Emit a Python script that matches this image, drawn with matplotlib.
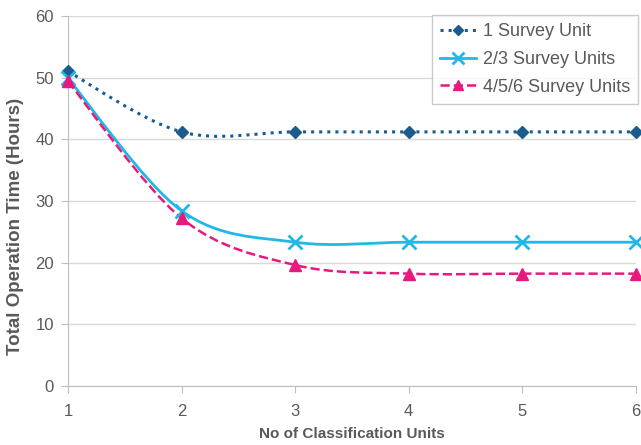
import matplotlib
matplotlib.use('Agg')

import numpy as np
import matplotlib.pyplot as plt
from matplotlib.path import Path
from matplotlib.patches import PathPatch
from matplotlib.lines import Line2D

# -----------------------------
# Data
# -----------------------------
units = [1, 2, 3, 4, 5, 6]
one_unit = [51.0, 41.2, 41.2, 41.2, 41.2, 41.2]
two_three_units = [49.9, 28.4, 23.3, 23.3, 23.3, 23.3]
four_five_six_units = [49.4, 27.2, 19.6, 18.2, 18.2, 18.2]

labels = ['1 Survey Unit', '2/3 Survey Units', '4/5/6 Survey Units']

plt.rcParams['font.family'] = ['Liberation Sans', 'DejaVu Sans']
grey = '#595959'


# -----------------------------
# Excel-style smoothed line (cubic Bezier segments)
# -----------------------------
def smooth_path(x, y):
    pts = np.column_stack([x, y]).astype(float)
    n = len(pts)
    verts = [pts[0]]
    codes = [Path.MOVETO]
    for k in range(n - 1):
        p0 = pts[max(k - 1, 0)]
        p1 = pts[k]
        p2 = pts[k + 1]
        p3 = pts[min(k + 2, n - 1)]
        c1 = p1 + (p2 - p0) / 6.0
        c2 = p2 - (p3 - p1) / 6.0
        verts += [c1, c2, p2]
        codes += [Path.CURVE4] * 3
    return Path(verts, codes)


series = [
    (one_unit, '#1B5C8E', ':', 'D', 6, 2.2),
    (two_three_units, '#22B8E6', '-', 'x', 10, 2.0),
    (four_five_six_units, '#E8197E', '--', '^', 9, 1.8),
]

fig, ax = plt.subplots(figsize=(6.41, 4.45), dpi=100)
fig.subplots_adjust(left=0.106, right=0.992, top=0.964, bottom=0.133)

handles = []
for (vals, col, ls, mk, ms, lw), lab in zip(series, labels):
    patch = PathPatch(smooth_path(units, vals), facecolor='none', edgecolor=col,
                      linestyle=ls, linewidth=lw, zorder=3)
    ax.add_patch(patch)
    mew = 2.0 if mk == 'x' else 1.0
    ax.plot(units, vals, linestyle='none', marker=mk, markersize=ms,
            color=col, markeredgewidth=mew, zorder=4, clip_on=False)
    handles.append(Line2D([], [], color=col, linestyle=ls, linewidth=lw,
                          marker=mk, markersize=ms * 0.85, markeredgewidth=mew))

ax.set_xlim(1, 6)
ax.set_ylim(0, 60)
ax.set_xticks(units)
ax.set_yticks(range(0, 61, 10))
ax.yaxis.grid(True, color='#D9D9D9', linewidth=1)
ax.set_axisbelow(True)

for s in ['top', 'right']:
    ax.spines[s].set_visible(False)
for s in ['left', 'bottom']:
    ax.spines[s].set_color('#BFBFBF')

ax.tick_params(axis='both', colors=grey, labelsize=12, length=5)
ax.tick_params(axis='x', color='#BFBFBF', pad=8)
ax.tick_params(axis='y', color='#BFBFBF', length=5, pad=5)

ax.set_xlabel('No of Classification Units', fontsize=11, fontweight='bold',
              color=grey, labelpad=6)
ax.set_ylabel('Total Operation Time (Hours)', fontsize=13.5, fontweight='bold',
              color=grey)
ax.yaxis.set_label_coords(-0.077, 0.43)

leg = ax.legend(handles, labels, loc='upper right', bbox_to_anchor=(1.004, 1.003),
                fontsize=13, handlelength=2.0, handletextpad=0.35,
                labelspacing=0.6, borderpad=0.45, borderaxespad=0.0,
                fancybox=False, frameon=True, labelcolor=grey)
leg.get_frame().set_edgecolor('#BFBFBF')
leg.get_frame().set_linewidth(1)

plt.savefig('out.png', dpi=100)
plt.close()
